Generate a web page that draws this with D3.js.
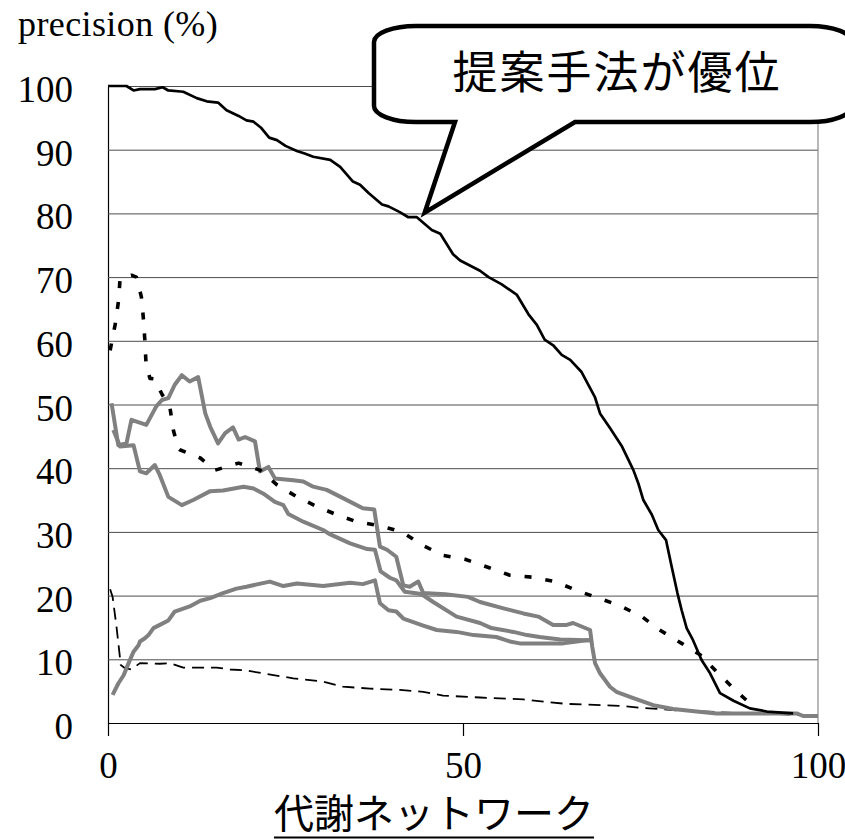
<!DOCTYPE html>
<html>
<head>
<meta charset="utf-8">
<script src="https://cdn.jsdelivr.net/npm/d3@7"></script>
<style>
  html, body { margin: 0; padding: 0; background: #fff; }
  svg { display: block; }
</style>
</head>
<body>
<svg id="chart" width="845" height="839"></svg>
<script>
// Precision curves over the metabolic networks (sorted), percent.
const yTicks = [0, 10, 20, 30, 40, 50, 60, 70, 80, 90, 100];
const xTicks = [0, 50, 100];
const yTitle = "precision (%)";
const xTitle = "代謝ネットワーク";
const calloutText = "提案手法が優位";
const calloutPoint = [44.6, 80.1];

// proposed method (solid black)
const proposed = [[0,100],[2.6,100],[3.6,99.3],[4.5,99.5],[6.6,99.5],[7.7,99.8],[8.5,99.3],[10.6,99.1],
  [12.5,98.1],[13.9,97.6],[15.5,97.4],[16.7,96.2],[18.4,95.3],[19.5,94.6],[20.5,94.4],[21.6,93.4],
  [22.7,91.9],[23.8,91.5],[25,90.6],[26.6,89.8],[27.7,89.4],[28.9,88.9],[31.3,88.4],[32.7,87.3],
  [34.5,85],[35.5,84.5],[36.7,83.2],[38.6,81.4],[39.5,81.1],[41.1,80.2],[42.3,79.4],[43.5,79.4],
  [45.6,77.4],[46.8,76.8],[48.6,73.6],[49.6,72.6],[52.4,71],[53.6,70],[55.4,68.9],[57.6,67.2],
  [59.2,64.2],[60.4,62.5],[61.5,60.2],[62.7,59.3],[63.9,57.8],[65.1,57],[66.7,55.1],[68.6,51.1],
  [69.3,48.6],[70.7,46.3],[72.4,43.4],[74,39.7],[74.7,37.6],[75.4,35],[76.6,32.7],[77.5,30.3],
  [78.6,28.7],[79.4,24.5],[80.2,20.4],[80.8,17.7],[81.5,14.9],[82.4,13],[83.6,9.9],[84.8,7.8],
  [86.2,4.7],[88.1,3.5],[90.4,2.3],[92.8,1.8],[96.5,1.5]];

// comparison method (thick dotted black)
const dotted = [[0.3,58.5],[1,62.5],[1.5,66.4],[1.7,69.8],[3.3,70.3],[4,70],[4.7,66.9],[5,63.3],
  [5.2,59.9],[5.35,56.5],[5.9,54.1],[6.6,54],[7.6,51.6],[8.7,49.7],[9.2,46],[9.9,43.1],[10.1,42.9],
  [13,41.6],[15.1,39.7],[18.4,40.8],[21.4,39.7],[23.8,37.4],[26.6,35.5],[29.4,34],[32.2,32.7],
  [35,31.6],[38.5,30.9],[41.4,30],[44.3,27.9],[47.2,26.3],[50.3,25.7],[53.6,24.4],[56.6,23.2],
  [59.7,22.9],[63,22.2],[66,20.8],[69.1,19.6],[72.1,18.4],[75.2,16.7],[77.7,14.6],[80.8,12.5],
  [83.4,10.7],[85.7,8.1],[88.3,5.2],[90.7,2.8]];

// comparison method (thin dashed black)
const dashed = [[0.3,21],[0.65,19.8],[1.2,15.1],[1.8,9.1],[2.4,8.6],[3.3,8.4],[4.5,9.4],[7.3,9.3],
  [8.7,9.4],[10.6,8.7],[15.3,8.7],[17.2,8.4],[19.1,8.3],[21.9,7.8],[26.1,7],[30.3,6.5],[33.1,5.7],
  [36.9,5.4],[41.1,5.2],[44.4,4.9],[47.2,4.3],[52.4,4],[58.5,3.7],[61.8,3.3],[64.6,3],[72.1,2.7],
  [74.9,2.4],[80,2],[88,1.6],[100,1.2]];

// comparison methods (gray)
const grayA = [[0.5,50.2],[1.45,43.6],[2.6,43.9],[3.3,47.6],[5.4,46.8],[6.8,49.7],[7.6,50.7],
  [8.5,51],[9.4,53.1],[10.4,54.6],[11.5,53.6],[12.7,54.3],[13.7,48.6],[14.4,46.5],[15.5,43.9],
  [16.5,45.5],[17.6,46.4],[18.4,44.5],[19.3,44.9],[20.7,44.2],[21.4,39.5],[22.6,40.2],[23.5,38.4],
  [26.1,38.1],[27.5,37.9],[28.9,37.1],[30.8,36.6],[33.1,35.3],[35.9,33.7],[37.5,33.5],[38.3,27.7],
  [39.3,27.2],[40.6,26.1],[41.6,21.6],[42.5,21.4],[43.7,22.2],[44.4,20.4],[47.5,20.2],[50.7,19.8],
  [52.4,19],[55.7,18],[58.5,17.2],[60.6,16.7],[62.7,15.4],[64.6,15.4],[65.5,15.7],[67.9,14.6],
  [68.2,12],[68.6,9.4],[69.3,7.8],[70.7,5.7],[71.6,4.9],[74,3.9],[76.8,2.8],[79.6,2.2],[82.9,1.8],
  [85.7,1.5],[97,1.5],[97.9,1.1],[100,1.1]];

const grayB = [[0.75,46],[1.7,43.4],[3.6,43.6],[4.5,39.5],[5.4,39.2],[6.6,40.5],[7.3,38.9],
  [8.5,35.5],[10.4,34.2],[12,35],[14.4,36.4],[16.2,36.5],[19.1,37.1],[20.5,36.8],[21.9,36],
  [23.5,34.7],[24.7,34.2],[25.4,32.8],[27.5,31.6],[30.3,30.3],[31.3,29.6],[34.1,28.2],[36.5,27.3],
  [37.6,27.2],[38.4,23.8],[39.7,22.8],[40.6,22.4],[41.8,20.6],[43.9,20.3],[44.6,19.9],[45.8,19],
  [49.1,16.7],[52.4,15.7],[54,14.9],[57.1,14.3],[59,13.8],[60.8,13.5],[63.7,13.1],[67.4,13],[68,13]];

const grayC = [[0.65,4.4],[1.45,6.2],[2.2,7.5],[2.9,9.4],[3.6,11.2],[4.3,12.2],[4.5,12.8],
  [5.2,13.3],[5.7,13.8],[6.4,14.9],[7.3,15.4],[8.5,16.1],[9.4,17.5],[11.5,18.3],[13,19.2],
  [14.4,19.6],[16.2,20.4],[18.1,21.1],[19.5,21.4],[22.8,22.2],[24.7,21.5],[26.6,21.9],[30.3,21.5],
  [34.1,22],[35.9,21.8],[37.6,22.4],[38.3,18.8],[39.5,17.7],[40.6,17.5],[41.6,16.4],[44.4,15.3],
  [46.3,14.6],[49.1,14.3],[51.5,13.8],[54.7,13.5],[56.6,12.8],[58,12.5],[64.1,12.5],[67.4,13],[68,13]];

const svg = d3.select("#chart");
const serif = "'Liberation Serif', 'Times New Roman', serif";
const cjk = "'Noto Sans CJK JP', 'Noto Sans CJK SC', sans-serif";

const x = d3.scaleLinear().domain([0, 100]).range([108, 818]);
const y = d3.scaleLinear().domain([0, 100]).range([723, 86]);
const plotW = x(100) - x(0);

svg.append("rect").attr("width", 845).attr("height", 839).attr("fill", "#fff");

// y axis with gridlines
const gy = svg.append("g")
  .attr("transform", `translate(${x(0)},0)`)
  .call(d3.axisLeft(y).tickValues(yTicks).tickSizeInner(-plotW).tickSizeOuter(0).tickPadding(35));
gy.selectAll(".tick line").attr("stroke", "#4d4d4d").attr("stroke-width", 1);
gy.select(".domain").attr("stroke", "#000").attr("stroke-width", 1.2);
gy.selectAll(".tick text")
  .attr("font-family", serif).attr("font-size", 37).attr("fill", "#000")
  .attr("dy", "0.42em");

// right border of plot area
svg.append("line")
  .attr("x1", x(100)).attr("x2", x(100)).attr("y1", y(0)).attr("y2", y(100))
  .attr("stroke", "#8a8a8a").attr("stroke-width", 1.2);

// x axis
const gx = svg.append("g")
  .attr("transform", `translate(0,${y(0)})`)
  .call(d3.axisBottom(x).tickValues(xTicks).tickSizeInner(13).tickSizeOuter(0));
gx.select(".domain").attr("stroke", "#000").attr("stroke-width", 1.2);
gx.selectAll(".tick line").attr("stroke", "#000").attr("stroke-width", 1.2);
gx.selectAll(".tick text")
  .attr("font-family", serif).attr("font-size", 37).attr("fill", "#000")
  .attr("y", 55).attr("dy", 0);

// series
const line = d3.line().x(d => x(d[0])).y(d => y(d[1]));
const series = [
  { data: dashed, color: "#000", width: 1.8, dash: "12,7" },
  { data: grayC, color: "#808080", width: 4, dash: null },
  { data: grayB, color: "#808080", width: 4, dash: null },
  { data: grayA, color: "#808080", width: 4, dash: null },
  { data: dotted, color: "#000", width: 3.6, dash: "7,14" },
  { data: proposed, color: "#000", width: 2.7, dash: null }
];
svg.append("g").selectAll("path").data(series).join("path")
  .attr("d", d => line(d.data))
  .attr("fill", "none")
  .attr("stroke", d => d.color)
  .attr("stroke-width", d => d.width)
  .attr("stroke-dasharray", d => d.dash)
  .attr("stroke-linejoin", "round");

// axis titles
svg.append("text")
  .attr("x", 18).attr("y", 36)
  .attr("font-family", serif).attr("font-size", 36).attr("letter-spacing", 0.4)
  .text(yTitle);

const xt = svg.append("text")
  .attr("x", 434).attr("y", 828)
  .attr("text-anchor", "middle")
  .attr("font-family", cjk).attr("font-size", 40)
  .text(xTitle);
const bb = xt.node().getBBox();
svg.append("line")
  .attr("x1", bb.x).attr("x2", bb.x + bb.width)
  .attr("y1", 837.5).attr("y2", 837.5)
  .attr("stroke", "#000").attr("stroke-width", 2);

// callout bubble pointing at the proposed curve
const bx0 = 374, bx1 = 852, by0 = 26, by1 = 122, rx = 42, ry = 16;
const tip = [x(calloutPoint[0]), y(calloutPoint[1])];
const tailL = 455, tailR = 575;
const bubble = [
  `M${bx0 + rx},${by0}`,
  `H${bx1 - rx}`,
  `A${rx},${ry} 0 0 1 ${bx1},${by0 + ry}`,
  `V${by1 - ry}`,
  `A${rx},${ry} 0 0 1 ${bx1 - rx},${by1}`,
  `H${tailR}`,
  `L${tip[0]},${tip[1]}`,
  `L${tailL},${by1}`,
  `H${bx0 + rx}`,
  `A${rx},${ry} 0 0 1 ${bx0},${by1 - ry}`,
  `V${by0 + ry}`,
  `A${rx},${ry} 0 0 1 ${bx0 + rx},${by0}`,
  "Z"
].join(" ");
svg.append("path")
  .attr("d", bubble)
  .attr("fill", "#fff").attr("stroke", "#000").attr("stroke-width", 4.5)
  .attr("stroke-linejoin", "miter");
svg.append("text")
  .attr("x", 617).attr("y", 89)
  .attr("text-anchor", "middle")
  .attr("font-family", cjk).attr("font-size", 45).attr("letter-spacing", 2)
  .text(calloutText);
</script>
</body>
</html>
